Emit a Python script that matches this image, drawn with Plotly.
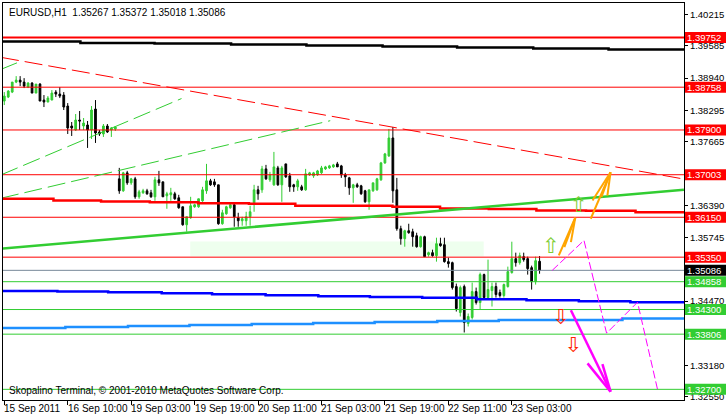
import plotly.graph_objects as go

FONT = "Liberation Sans, Arial, sans-serif"

# ---------------- candle data (EURUSD H1) ----------------
opens = [1.3848, 1.3856, 1.3866, 1.3886, 1.3890, 1.3886, 1.3876, 1.3884, 1.3864, 1.3882,
         1.3850, 1.3846, 1.3850, 1.3866, 1.3862, 1.3860, 1.3838, 1.3798, 1.3790, 1.3810,
         1.3798, 1.3800, 1.3790, 1.3832, 1.3786, 1.3782, 1.3798, 1.3790, 1.3792, 1.3692,
         1.3668, 1.3704, 1.3684, 1.3692, 1.3656, 1.3664, 1.3668, 1.3664, 1.3656, 1.3690,
         1.3686, 1.3658, 1.3660, 1.3662, 1.3654, 1.3636, 1.3600, 1.3614, 1.3636, 1.3636,
         1.3648, 1.3668, 1.3688, 1.3686, 1.3680, 1.3602, 1.3622, 1.3634, 1.3640, 1.3614,
         1.3608, 1.3608, 1.3616, 1.3644, 1.3670, 1.3670, 1.3712, 1.3690, 1.3680, 1.3714,
         1.3680, 1.3722, 1.3698, 1.3680, 1.3676, 1.3676, 1.3670, 1.3700, 1.3698, 1.3700,
         1.3704, 1.3712, 1.3714, 1.3716, 1.3722, 1.3718, 1.3700, 1.3694, 1.3674, 1.3680,
         1.3678, 1.3668, 1.3646, 1.3668, 1.3670, 1.3690, 1.3724, 1.3738, 1.3774, 1.3670,
         1.3592, 1.3572, 1.3588, 1.3586, 1.3578, 1.3556, 1.3576, 1.3540, 1.3544, 1.3538,
         1.3562, 1.3560, 1.3526, 1.3524, 1.3476, 1.3424, 1.3476, 1.3402, 1.3414, 1.3466,
         1.3444, 1.3500, 1.3454, 1.3468, 1.3476, 1.3464, 1.3458, 1.3476, 1.3504, 1.3532,
         1.3524, 1.3536, 1.3532, 1.3514, 1.3486, 1.35267]
highs = [1.3866, 1.3870, 1.3886, 1.3898, 1.3898, 1.3894, 1.3886, 1.3886, 1.3882, 1.3884,
         1.3860, 1.3858, 1.3870, 1.3870, 1.3876, 1.3866, 1.3844, 1.3806, 1.3822, 1.3828,
         1.3814, 1.3808, 1.3838, 1.3850, 1.3790, 1.3802, 1.3802, 1.3796, 1.3798, 1.3714,
         1.3706, 1.3708, 1.3694, 1.3696, 1.3670, 1.3672, 1.3672, 1.3670, 1.3696, 1.3708,
         1.3686, 1.3666, 1.3674, 1.3666, 1.3660, 1.3636, 1.3616, 1.3656, 1.3642, 1.3650,
         1.3676, 1.3722, 1.3692, 1.3692, 1.3680, 1.3630, 1.3638, 1.3644, 1.3642, 1.3624,
         1.3616, 1.3626, 1.3638, 1.3680, 1.3678, 1.3718, 1.3720, 1.3706, 1.3746, 1.3718,
         1.3718, 1.3722, 1.3704, 1.3682, 1.3692, 1.3680, 1.3712, 1.3706, 1.3706, 1.3710,
         1.3718, 1.3718, 1.3720, 1.3722, 1.3726, 1.3720, 1.3704, 1.3696, 1.3682, 1.3684,
         1.3680, 1.3670, 1.3670, 1.3684, 1.3694, 1.3726, 1.3744, 1.3792, 1.3796, 1.3694,
         1.3598, 1.3590, 1.3602, 1.3592, 1.3584, 1.3578, 1.3578, 1.3546, 1.3550, 1.3574,
         1.3574, 1.3574, 1.3534, 1.3526, 1.3482, 1.3478, 1.3480, 1.3422, 1.3484, 1.3474,
         1.3504, 1.3502, 1.3530, 1.3484, 1.3484, 1.3470, 1.3482, 1.3516, 1.3566, 1.3544,
         1.3544, 1.3544, 1.3536, 1.3518, 1.3536, 1.35372]
lows = [1.3840, 1.3854, 1.3864, 1.3884, 1.3878, 1.3874, 1.3874, 1.3864, 1.3864, 1.3848,
        1.3836, 1.3846, 1.3850, 1.3856, 1.3854, 1.3830, 1.3782, 1.3778, 1.3788, 1.3790,
        1.3790, 1.3754, 1.3772, 1.3764, 1.3778, 1.3776, 1.3784, 1.3776, 1.3788, 1.3662,
        1.3666, 1.3680, 1.3680, 1.3652, 1.3652, 1.3662, 1.3660, 1.3654, 1.3648, 1.3678,
        1.3656, 1.3632, 1.3648, 1.3650, 1.3632, 1.3598, 1.3586, 1.3612, 1.3634, 1.3634,
        1.3646, 1.3662, 1.3678, 1.3676, 1.3600, 1.3600, 1.3620, 1.3632, 1.3596, 1.3596,
        1.3598, 1.3598, 1.3598, 1.3626, 1.3650, 1.3664, 1.3690, 1.3686, 1.3678, 1.3678,
        1.3646, 1.3694, 1.3666, 1.3666, 1.3668, 1.3668, 1.3668, 1.3698, 1.3694, 1.3698,
        1.3702, 1.3710, 1.3712, 1.3714, 1.3716, 1.3694, 1.3676, 1.3660, 1.3644, 1.3674,
        1.3660, 1.3644, 1.3630, 1.3666, 1.3668, 1.3688, 1.3722, 1.3736, 1.3644, 1.3588,
        1.3560, 1.3556, 1.3582, 1.3556, 1.3554, 1.3554, 1.3536, 1.3536, 1.3536, 1.3526,
        1.3556, 1.3524, 1.3514, 1.3470, 1.3426, 1.3416, 1.3384, 1.3396, 1.3410, 1.3440,
        1.3430, 1.3452, 1.3450, 1.3436, 1.3454, 1.3454, 1.3454, 1.3474, 1.3502, 1.3516,
        1.3520, 1.3526, 1.3500, 1.3470, 1.3480, 1.35018]
closes = [1.3858, 1.3868, 1.3886, 1.3890, 1.3886, 1.3878, 1.3884, 1.3864, 1.3882, 1.3848,
          1.3846, 1.3854, 1.3864, 1.3862, 1.3858, 1.3836, 1.3794, 1.3794, 1.3810, 1.3808,
          1.3804, 1.3790, 1.3830, 1.3784, 1.3782, 1.3798, 1.3786, 1.3794, 1.3796, 1.3668,
          1.3704, 1.3684, 1.3692, 1.3656, 1.3666, 1.3668, 1.3662, 1.3656, 1.3690, 1.3684,
          1.3656, 1.3662, 1.3664, 1.3652, 1.3634, 1.3600, 1.3616, 1.3638, 1.3640, 1.3652,
          1.3670, 1.3688, 1.3680, 1.3680, 1.3602, 1.3624, 1.3636, 1.3640, 1.3616, 1.3608,
          1.3612, 1.3616, 1.3626, 1.3670, 1.3662, 1.3712, 1.3692, 1.3700, 1.3716, 1.3680,
          1.3714, 1.3696, 1.3676, 1.3676, 1.3688, 1.3670, 1.3702, 1.3704, 1.3704, 1.3708,
          1.3714, 1.3716, 1.3718, 1.3720, 1.3716, 1.3700, 1.3696, 1.3674, 1.3680, 1.3676,
          1.3662, 1.3646, 1.3670, 1.3684, 1.3692, 1.3724, 1.3742, 1.3774, 1.3668, 1.3592,
          1.3572, 1.3588, 1.3584, 1.3576, 1.3556, 1.3576, 1.3536, 1.3544, 1.3538, 1.3562,
          1.3558, 1.3526, 1.3522, 1.3474, 1.3432, 1.3474, 1.3404, 1.3416, 1.3466, 1.3444,
          1.3500, 1.3454, 1.3470, 1.3476, 1.3460, 1.3458, 1.3480, 1.3506, 1.3532, 1.3524,
          1.3538, 1.3530, 1.3512, 1.3486, 1.3528, 1.35086]

# ---------------- axes ----------------
time_tick_bars = [0, 16, 32, 48, 64, 80, 96, 112, 128]
time_tick_labels = ["15 Sep 2011", "16 Sep 10:00", "19 Sep 03:00", "19 Sep 19:00", "20 Sep 11:00",
                    "21 Sep 03:00", "21 Sep 19:00", "22 Sep 11:00", "23 Sep 03:00"]
price_ticks = [1.40215, 1.39585, 1.38940, 1.38295, 1.37665, 1.36390, 1.35745, 1.34470, 1.33180, 1.32550]

# ---------------- levels ----------------
resistance_levels = [1.39752, 1.38758, 1.37900, 1.37003, 1.36150, 1.35350]
resistance_widths = [2, 1, 1, 1, 1, 1]
support_levels = [1.34858, 1.34300, 1.33806, 1.32700]
current_price = 1.35086

# ---------------- indicator lines (bar index, price) ----------------
black_step_x = [-1, 19.2, 37.9, 57.2, 76.2, 95.4, 114.2, 133.4, 152.4, 172]
black_step_y = [1.39672, 1.39646, 1.39632, 1.39616, 1.39592, 1.39572, 1.39552, 1.39532, 1.39512, 1.39512]

red_step_x = [-1, 12.4, 24.4, 36.7, 48.9, 61.7, 73.4, 97.9, 109.9, 122.2, 134.2, 146.7, 159.2, 172]
red_step_y = [1.36520, 1.36486, 1.36466, 1.36452, 1.36432, 1.36420, 1.36380, 1.36360, 1.36326,
              1.36316, 1.36286, 1.36282, 1.36252, 1.36252]

blue_step_x = [-1, 13.4, 26.2, 39.7, 52.4, 65.9, 79.2, 92.2, 105.4, 119.2, 131.7, 144.9, 157.9, 172]
blue_step_y = [1.34672, 1.34660, 1.34646, 1.34626, 1.34606, 1.34586, 1.34566, 1.34552, 1.34536,
               1.34506, 1.34486, 1.34466, 1.34446, 1.34446]

lblue_step_x = [-1, 15.4, 31.2, 46.7, 62.4, 77.9, 93.4, 109.2, 124.7, 155.9, 172]
lblue_step_y = [1.33932, 1.33952, 1.33972, 1.33992, 1.34012, 1.34032, 1.34052, 1.34072, 1.34092,
                1.34120, 1.34120]

green_trend_x = [-0.825, 171.4]
green_trend_y = [1.35520, 1.36700]

red_dash_x = [-0.825, 171.4]
red_dash_y = [1.39356, 1.36916]

green_dash_a_x = [-0.825, 44.7]
green_dash_a_y = [1.37000, 1.38530]
green_dash_b_x = [-0.825, 82.2]
green_dash_b_y = [1.36532, 1.38086]
green_dash_c_x = [-0.825, 3.2]
green_dash_c_y = [1.39116, 1.39246]

zone_x = [46.9, 120.9]
zone_y = [1.35366, 1.35666]

zigzag_x = [138.2, 146.2, 151.9, 159.7, 164.9]
zigzag_y = [1.35086, 1.35686, 1.33826, 1.34446, 1.32646]

up_fan1_tip = (144.0, 1.36140)
up_fan1_base_x = [139.85, 141.25, 142.9]
up_fan1_base_y = [1.35386, 1.35552, 1.35652]
up_fan2_tip = (152.9, 1.37052)
up_fan2_base_x = [147.9, 148.35, 150.6, 152.1]
up_fan2_base_y = [1.36120, 1.36486, 1.36552, 1.36586]
down_fan_tip = (152.9, 1.32652)
down_fan_base_x = [142.9, 147.1, 150.85]
down_fan_base_y = [1.34286, 1.33220, 1.33206]

up_sig_x = [137.9, 144.9]
up_sig_y = [1.35546, 1.36366]
down_sig_x = [140.4, 143.6]
down_sig_y = [1.34106, 1.33552]

GREEN = "#32CD32"
fig = go.Figure()

fig.add_shape(type="rect", xref="x", yref="y", x0=zone_x[0], x1=zone_x[1], y0=zone_y[0], y1=zone_y[1],
              fillcolor="#EEFFEE", line=dict(width=0), layer="below")

def hline(level, color, width):
    fig.add_trace(go.Scatter(x=[-1, 172], y=[level, level], mode="lines",
                             line=dict(color=color, width=width), hoverinfo="skip"))

for lv, w in zip(resistance_levels, resistance_widths):
    hline(lv, "#FF0000", w)
for lv in support_levels:
    hline(lv, GREEN, 1)
hline(current_price, "#778899", 1)

def line(xs, ys, color, width, dash=None, shape="linear"):
    fig.add_trace(go.Scatter(x=xs, y=ys, mode="lines", hoverinfo="skip",
                             line=dict(color=color, width=width, dash=dash, shape=shape)))

line(red_dash_x, red_dash_y, "#FF0000", 1, "18px,6px")
line(green_dash_a_x, green_dash_a_y, GREEN, 1, "18px,6px")
line(green_dash_b_x, green_dash_b_y, GREEN, 1, "18px,6px")
line(green_dash_c_x, green_dash_c_y, GREEN, 1, "18px,6px")
line(black_step_x, black_step_y, "#000000", 2.5, shape="hv")
line(red_step_x, red_step_y, "#FF0000", 2.5, shape="hv")
line(blue_step_x, blue_step_y, "#0000FF", 2.5, shape="hv")
line(lblue_step_x, lblue_step_y, "#1E90FF", 2.5, shape="hv")
line(green_trend_x, green_trend_y, GREEN, 2.5)
line(zigzag_x, zigzag_y, "#FF00FF", 1, "8px,3px")

def fan(tip, bxs, bys, color, width):
    xs, ys = [], []
    for bx, by in zip(bxs, bys):
        xs += [bx, tip[0], None]
        ys += [by, tip[1], None]
    line(xs, ys, color, width)

fan(up_fan1_tip, up_fan1_base_x, up_fan1_base_y, "#FFA500", 2)
fan(up_fan2_tip, up_fan2_base_x, up_fan2_base_y, "#FFA500", 2)
fan(down_fan_tip, down_fan_base_x, down_fan_base_y, "#FF00FF", 2.5)

fig.add_trace(go.Scatter(x=up_sig_x, y=up_sig_y, mode="text", text=["⇧"] * len(up_sig_x),
                         textfont=dict(size=21, color="#7CCD32", family="DejaVu Sans"), hoverinfo="skip"))
fig.add_trace(go.Scatter(x=down_sig_x, y=down_sig_y, mode="text", text=["⇩"] * len(down_sig_x),
                         textfont=dict(size=21, color="#FF2200", family="DejaVu Sans"), hoverinfo="skip"))

fig.add_trace(go.Candlestick(
    x=list(range(len(closes))), open=opens, high=highs, low=lows, close=closes,
    increasing=dict(line=dict(color=GREEN, width=1), fillcolor=GREEN),
    decreasing=dict(line=dict(color="#000000", width=1), fillcolor="#000000"),
    whiskerwidth=0, hoverinfo="skip"))

# right-side price labels
def price_label(level, bg):
    fig.add_shape(type="rect", xref="paper", yref="y", x0=1.0015, x1=1.08,
                  ysizemode="pixel", yanchor=level, y0=-5.5, y1=5.5,
                  fillcolor=bg, line=dict(width=0), layer="above")
    fig.add_annotation(xref="paper", yref="y", x=1, y=level, xanchor="left", yanchor="middle",
                       xshift=1, text=f"{level:.5f}", showarrow=False,
                       font=dict(family=FONT, size=9.5, color="white"))

for lv in resistance_levels:
    price_label(lv, "#FF0000")
price_label(current_price, "#000000")
for lv in support_levels:
    price_label(lv, GREEN)

for b, t in zip(time_tick_bars, time_tick_labels):
    fig.add_annotation(xref="x", yref="paper", x=b, y=0, xanchor="left", yanchor="top",
                       xshift=-2, yshift=-1, text=t, showarrow=False,
                       font=dict(family=FONT, size=10, color="black"))

fig.add_annotation(xref="paper", yref="paper", x=0, y=1, xanchor="left", yanchor="top",
                   xshift=4, yshift=-2,
                   text=f"EURUSD,H1\u00a0\u00a0{opens[-1]:.5f} {highs[-1]:.5f} {lows[-1]:.5f} {closes[-1]:.5f}",
                   showarrow=False, font=dict(family=FONT, size=10, color="black"))
fig.add_annotation(xref="paper", yref="paper", x=0, y=0, xanchor="left", yanchor="bottom",
                   xshift=4, yshift=2,
                   text="Skopalino Terminal, © 2001-2010 MetaQuotes Software Corp.",
                   showarrow=False, font=dict(family=FONT, size=10, color="black"))

fig.update_layout(
    width=726, height=416, margin=dict(l=2, r=37, t=2, b=16),
    paper_bgcolor="white", plot_bgcolor="white", showlegend=False, boxgap=0.38,
    xaxis=dict(range=[-0.325, 171.425], tickvals=time_tick_bars, showticklabels=False,
               ticks="outside", ticklen=4, tickcolor="black", showgrid=False, zeroline=False,
               showline=True, linecolor="black", linewidth=1, mirror=True,
               rangeslider=dict(visible=False), fixedrange=True),
    yaxis=dict(range=[1.32486, 1.40446], side="right", tickvals=price_ticks,
               ticktext=[f"{v:.5f}" for v in price_ticks], ticks="outside", ticklen=3,
               tickcolor="black", showgrid=False, zeroline=False, showline=True,
               linecolor="black", linewidth=1, mirror=True,
               tickfont=dict(family=FONT, size=9.5, color="black"), fixedrange=True),
)

fig.write_html("out.html", config={"displayModeBar": False},
               post_script="document.body.style.margin='0';document.body.style.overflow='hidden';")
